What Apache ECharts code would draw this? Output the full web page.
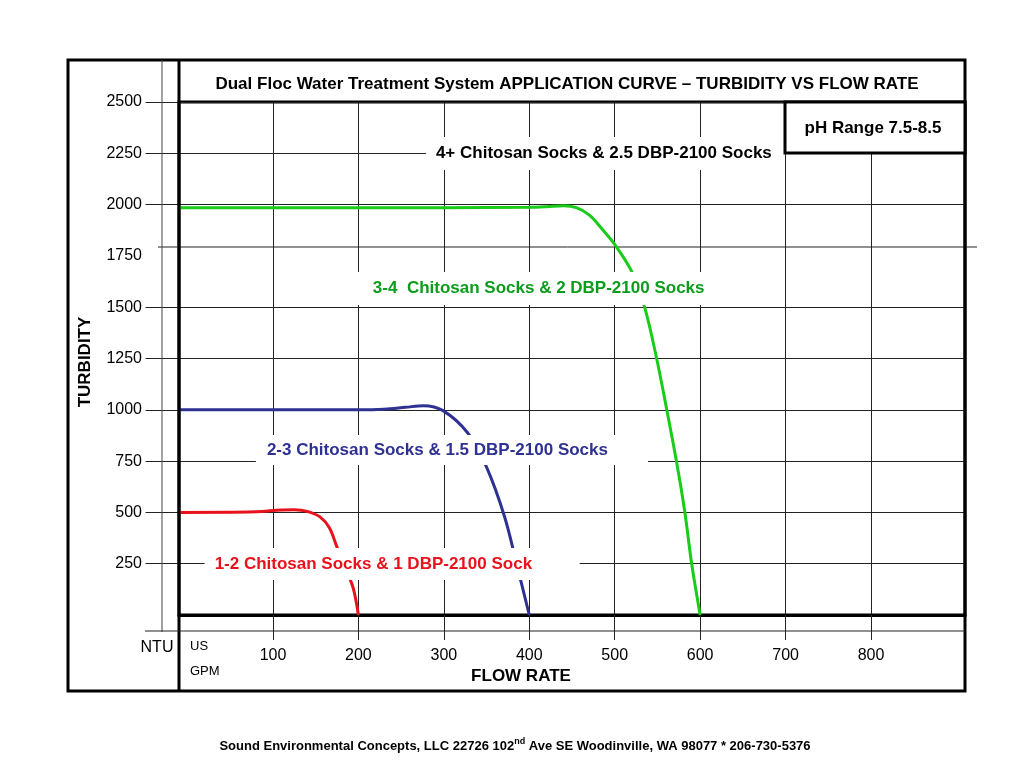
<!DOCTYPE html>
<html><head><meta charset="utf-8">
<script src="https://cdn.jsdelivr.net/npm/echarts@6/dist/echarts.min.js"></script>
<style>html,body{margin:0;padding:0;background:#fff}#c{width:1024px;height:768px}</style>
</head><body><div id="c"></div>
<script>
// ---- data ----
const xTicks = [100, 200, 300, 400, 500, 600, 700, 800];
const yLabels = [250, 500, 750, 1000, 1250, 1500, 1750, 2000, 2250, 2500];
const yGridLines = [250, 500, 750, 1000, 1250, 1500, 2000, 2250, 2500];
const redCurve = [[-10,500],[80,503],[110,512],[125,513],[140,505],[155,478],[166,425],[175,330],[186,215],[194,130],[200,0]];
const blueCurve = [[-10,1000],[200,1000],[230,1003],[255,1012],[276,1020],[299,996],[328,887],[350,721],[371,480],[386,235],[400,0]];
const greenCurve = [[-10,1985],[300,1985],[400,1987],[420,1990],[440,1995],[455,1985],[470,1950],[485,1882],[500,1806],[520,1673],[535,1500],[549,1251],[561,999],[572,755],[582,503],[590,252],[600,0]];
const labelTop = '4+ Chitosan Socks & 2.5 DBP-2100 Socks';
const labelGreen = '3-4  Chitosan Socks & 2 DBP-2100 Socks';
const labelBlue = '2-3 Chitosan Socks & 1.5 DBP-2100 Socks';
const labelRed = '1-2 Chitosan Socks & 1 DBP-2100 Sock';

const FONT = '"Liberation Sans", Arial, Helvetica, sans-serif';
const RED = '#e8121c', BLUE = '#2e3192', GREEN = '#19cc19', GREEN_T = '#0c9c1c';

function box(x0, y0, x1, y1, text, color, dist) {
  return [{ xAxis: x0, yAxis: y0, name: text,
            label: { show: true, position: 'insideLeft', distance: dist, color: color,
                     fontFamily: FONT, fontWeight: 'bold', fontSize: 17, formatter: '{b}' } },
          { xAxis: x1, yAxis: y1 }];
}
function areaOpts(items) {
  return { silent: true, z: 6, itemStyle: { color: '#fff', borderWidth: 0 }, emphasis: { disabled: true }, data: items };
}

const chart = echarts.init(document.getElementById('c'), null, { renderer: 'canvas' });
chart.setOption({
  animation: false,
  backgroundColor: '#fff',
  grid: { left: 179, right: 59, top: 102, bottom: 153, show: true, borderColor: '#000', borderWidth: 3, backgroundColor: 'transparent' },
  xAxis: {
    type: 'value', min: -10, max: 910,
    axisLine: { show: true, onZero: false, lineStyle: { color: '#000', width: 3 } },
    axisTick: { show: true, customValues: xTicks, length: 25, inside: false, lineStyle: { color: '#222', width: 1 } },
    axisLabel: { customValues: xTicks, margin: 33, fontFamily: FONT, fontSize: 16, color: '#000' },
    splitLine: { show: true, lineStyle: { color: '#222', width: 1 } }
  },
  yAxis: {
    type: 'value', min: 0, max: 2500,
    axisLine: { show: false },
    axisTick: { show: true, customValues: yGridLines, length: 42, inside: false, lineStyle: { color: '#222', width: 1 } },
    axisLabel: { customValues: yLabels, margin: 37, fontFamily: FONT, fontSize: 16, color: '#000', formatter: v => String(v) },
    splitLine: { show: true, lineStyle: { color: '#222', width: 1 } }
  },
  series: [
    { type: 'line', data: redCurve, smooth: 0.35, symbol: 'none', lineStyle: { color: RED, width: 3 }, z: 2,
      markArea: areaOpts([box(20, 326, 459, 171, labelRed, RED, 10)]) },
    { type: 'line', data: blueCurve, smooth: 0.35, symbol: 'none', lineStyle: { color: BLUE, width: 3 }, z: 2,
      markArea: areaOpts([box(80, 877, 539, 731, labelBlue, BLUE, 11)]) },
    { type: 'line', data: greenCurve, smooth: 0.35, symbol: 'none', lineStyle: { color: GREEN, width: 3 }, z: 2,
      markArea: areaOpts([box(190, 1672, 617, 1511, labelGreen, GREEN_T, 23),
                          box(279, 2329, 699, 2169, labelTop, '#000', 10)]) }
  ],
  graphic: [
    { type: 'rect', z: 50, silent: true, shape: { x: 68, y: 60, width: 897, height: 631 }, style: { fill: null, stroke: '#000', lineWidth: 3 } },
    { type: 'line', z: 50, silent: true, shape: { x1: 179, y1: 60, x2: 179, y2: 691 }, style: { stroke: '#000', lineWidth: 3 } },
    { type: 'line', z: 50, silent: true, shape: { x1: 162, y1: 60, x2: 162, y2: 632 }, style: { stroke: '#444', lineWidth: 1 } },
    { type: 'line', z: 50, silent: true, shape: { x1: 145, y1: 631, x2: 965, y2: 631 }, style: { stroke: '#222', lineWidth: 1 } },
    { type: 'line', z: 1, silent: true, shape: { x1: 158, y1: 247, x2: 977, y2: 247 }, style: { stroke: '#222', lineWidth: 1 } },
    { type: 'rect', z: 60, silent: true, shape: { x: 785, y: 102, width: 180, height: 51 }, style: { fill: '#fff', stroke: '#000', lineWidth: 3 } },
    { type: 'text', z: 61, silent: true, x: 873, y: 128, style: { text: 'pH Range 7.5-8.5', fill: '#000', font: 'bold 17px ' + FONT, textAlign: 'center', textVerticalAlign: 'middle' } },
    { type: 'text', z: 61, silent: true, x: 567, y: 84, style: { text: 'Dual Floc Water Treatment System APPLICATION CURVE \u2013 TURBIDITY VS FLOW RATE', fill: '#000', font: 'bold 17px ' + FONT, textAlign: 'center', textVerticalAlign: 'middle' } },
    { type: 'text', z: 61, silent: true, x: 85, y: 362, rotation: Math.PI / 2, style: { text: 'TURBIDITY', fill: '#000', font: 'bold 17px ' + FONT, textAlign: 'center', textVerticalAlign: 'middle' } },
    { type: 'text', z: 61, silent: true, x: 521, y: 676, style: { text: 'FLOW RATE', fill: '#000', font: 'bold 17px ' + FONT, textAlign: 'center', textVerticalAlign: 'middle' } },
    { type: 'text', z: 61, silent: true, x: 157, y: 648, style: { text: 'NTU', fill: '#000', font: '16px ' + FONT, textAlign: 'center', textVerticalAlign: 'middle' } },
    { type: 'text', z: 61, silent: true, x: 190, y: 646, style: { text: 'US', fill: '#000', font: '13px ' + FONT, textAlign: 'left', textVerticalAlign: 'middle' } },
    { type: 'text', z: 61, silent: true, x: 190, y: 671, style: { text: 'GPM', fill: '#000', font: '13px ' + FONT, textAlign: 'left', textVerticalAlign: 'middle' } },
    { type: 'text', z: 61, silent: true, x: 515, y: 745, style: {
        text: '{a|Sound Environmental Concepts, LLC 22726 102}{s|nd}{a| Ave SE Woodinville, WA 98077 * 206-730-5376}',
        textAlign: 'center', textVerticalAlign: 'middle',
        rich: { a: { fontFamily: FONT, fontWeight: 'bold', fontSize: 13, color: '#000', lineHeight: 15, verticalAlign: 'bottom' },
                s: { fontFamily: FONT, fontWeight: 'bold', fontSize: 9, color: '#000', lineHeight: 15, verticalAlign: 'top' } } } }
  ]
});
</script></body></html>
